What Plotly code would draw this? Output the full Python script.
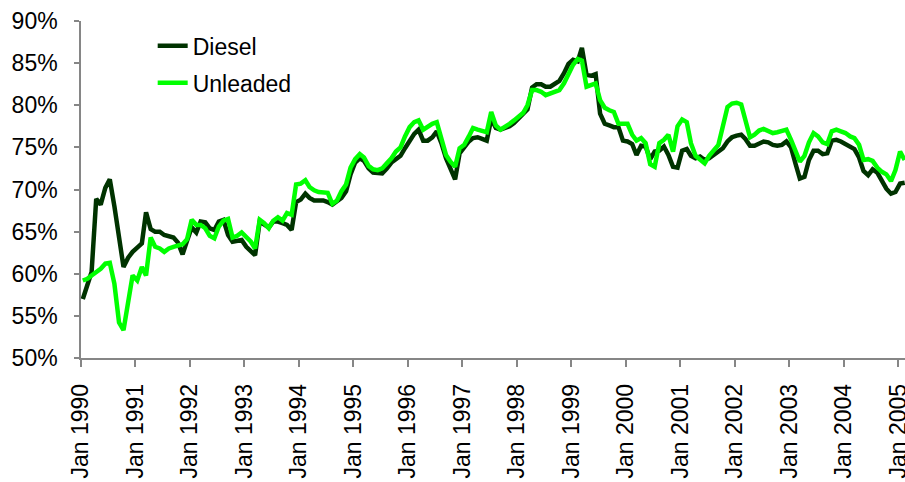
import pandas as pd
import plotly.graph_objects as go

# Monthly series, Jan 1990 .. Feb 2005 (percent)
months = pd.date_range("1990-01-01", periods=182, freq="MS")

diesel = [
    57.0, 58.7, 60.2, 68.9, 68.2, 70.2, 71.2, 68.0, 64.7, 60.8, 61.9, 62.6,  # 1990
    63.1, 63.6, 67.3, 65.3, 65.0, 65.0, 64.6, 64.4, 64.3, 63.7, 62.3, 63.9,  # 1991
    65.5, 64.9, 66.2, 66.1, 65.4, 65.2, 66.2, 66.4, 64.6, 63.8, 63.9, 64.0,  # 1992
    63.2, 62.6, 62.2, 66.2, 65.8, 65.5, 66.2, 66.2, 66.0, 65.8, 65.2, 68.5,  # 1993
    68.8, 69.5, 69.0, 68.7, 68.7, 68.7, 68.5, 68.2, 68.6, 69.0, 69.8, 71.8,  # 1994
    73.2, 73.7, 73.4, 72.5, 72.0, 71.9, 71.9, 72.5, 73.2, 73.6, 74.0, 74.9,  # 1995
    75.8, 76.6, 77.1, 75.8, 75.8, 76.2, 76.9, 75.5, 73.7, 72.5, 71.2, 74.3,  # 1996
    75.0, 75.7, 76.1, 76.2, 76.0, 75.8, 78.4, 77.3, 77.1, 77.3, 77.5, 77.9,  # 1997
    78.4, 79.0, 79.5, 82.1, 82.5, 82.5, 82.2, 82.2, 82.6, 82.9, 83.8, 84.9,  # 1998
    85.4, 85.2, 86.8, 83.6, 83.5, 83.7, 79.0, 77.8, 77.6, 77.4, 77.4, 75.8,  # 1999
    75.7, 75.4, 74.1, 75.2, 75.1, 73.6, 74.5, 74.6, 75.1, 74.1, 72.7, 72.6,  # 2000
    74.6, 74.8, 74.0, 73.7, 73.9, 73.5, 73.7, 74.1, 74.5, 74.9, 75.7, 76.2,  # 2001
    76.4, 76.5, 76.0, 75.2, 75.2, 75.5, 75.7, 75.6, 75.3, 75.2, 75.3, 75.7,  # 2002
    75.0, 73.0, 71.3, 71.5, 73.5, 74.6, 74.6, 74.2, 74.3, 75.8, 75.9, 75.7,  # 2003
    75.4, 75.1, 74.8, 73.8, 72.2, 71.7, 72.4, 72.0, 71.1, 70.1, 69.5, 69.7,  # 2004
    70.7, 70.8,                                                              # 2005
]

unleaded = [
    59.2, 59.4, 59.8, 60.2, 60.6, 61.2, 61.3, 58.8, 54.2, 53.3, 56.8, 59.8,  # 1990
    59.2, 60.8, 59.8, 64.3, 63.2, 63.0, 62.6, 63.0, 63.2, 63.4, 63.5, 64.1,  # 1991
    66.4, 65.8, 65.8, 65.4, 64.5, 64.2, 65.6, 66.3, 66.5, 64.3, 64.5, 64.9,  # 1992
    64.4, 63.8, 63.0, 66.4, 66.0, 65.4, 66.3, 66.7, 66.3, 67.2, 67.0, 70.6,  # 1993
    70.7, 71.1, 70.3, 69.9, 69.7, 69.6, 69.6, 68.3, 68.7, 69.8, 70.6, 72.6,  # 1994
    73.6, 74.2, 73.8, 72.8, 72.4, 72.3, 72.5, 73.1, 73.7, 74.5, 75.0, 76.3,  # 1995
    77.4, 78.0, 78.2, 77.1, 77.5, 77.8, 78.0, 76.0, 74.1, 73.3, 72.7, 74.9,  # 1996
    75.3, 76.3, 77.3, 77.1, 77.0, 76.8, 79.2, 77.6, 77.1, 77.4, 77.8, 78.2,  # 1997
    78.6, 79.1, 80.0, 81.8, 81.8, 81.6, 81.2, 81.4, 81.6, 81.8, 82.6, 83.6,  # 1998
    84.8, 85.5, 85.3, 82.2, 82.4, 82.6, 80.6, 79.7, 79.4, 79.2, 77.8, 77.8,  # 1999
    77.8, 76.5, 75.8, 76.1, 75.5, 73.0, 72.7, 75.5, 75.9, 76.5, 74.5, 77.5,  # 2000
    78.3, 78.0, 75.5, 74.0, 73.6, 73.1, 74.0, 74.6, 75.3, 77.5, 79.8, 80.2,  # 2001
    80.3, 80.1, 78.3, 76.2, 76.5, 77.0, 77.2, 77.0, 76.7, 76.8, 77.0, 77.1,  # 2002
    75.9, 74.5, 73.3, 74.0, 75.6, 76.7, 76.3, 75.6, 75.4, 76.9, 77.1, 76.9,  # 2003
    76.7, 76.3, 76.1, 75.3, 73.5, 73.6, 73.4, 72.6, 72.1, 71.8, 71.0, 72.3,  # 2004
    74.5, 73.5,                                                              # 2005
]

series_names = ["Diesel", "Unleaded"]
series_colors = ["#003300", "#00FF00"]

# points sit inside their month (Excel date axis "between tick marks")
x_dates = months + pd.Timedelta(days=12)

FONT = "Liberation Sans, Arial, sans-serif"
AXIS_COLOR = "#868686"

fig = go.Figure()
for name, vals, col in zip(series_names, [diesel, unleaded], series_colors):
    fig.add_trace(go.Scatter(
        x=x_dates, y=vals, name=name, mode="lines", legendgroup=name,
        line=dict(color=col, width=4.5),
    ))

fig.update_layout(
    width=905, height=482,
    margin=dict(l=81, r=0, t=21, b=124, autoexpand=False),
    plot_bgcolor="white", paper_bgcolor="white",
    font=dict(family=FONT, color="black", size=23),
    showlegend=True,
    legend=dict(
        x=0.087, y=0.99, xanchor="left", yanchor="top",
        bgcolor="rgba(0,0,0,0)", font=dict(size=23, family=FONT),
        tracegroupgap=4,
    ),
)

fig.update_xaxes(
    type="date",
    range=["1990-01-01", "2005-02-15"],
    tick0="1990-01-01", dtick="M12", tickformat="%b %Y",
    tickangle=-90,
    ticks="outside", ticklen=7, tickcolor=AXIS_COLOR, tickwidth=1.5,
    showline=True, linecolor=AXIS_COLOR, linewidth=1.5,
    showgrid=False, zeroline=False, automargin=False,
    tickfont=dict(size=23, family=FONT, color="black"),
    ticklabelstandoff=8, ticklabeloverflow="allow",
)

fig.update_yaxes(
    range=[50, 90], tick0=50, dtick=5, ticksuffix="%",
    ticks="outside", ticklen=5, tickcolor=AXIS_COLOR, tickwidth=1.5,
    showline=True, linecolor=AXIS_COLOR, linewidth=1.5,
    showgrid=False, zeroline=False, automargin=False,
    tickfont=dict(size=23, family=FONT, color="black"),
    ticklabelstandoff=12,
)

fig.write_html(
    "out.html",
    config={"displayModeBar": False},
    post_script="document.body.style.margin='0';document.body.style.overflow='hidden';",
)
